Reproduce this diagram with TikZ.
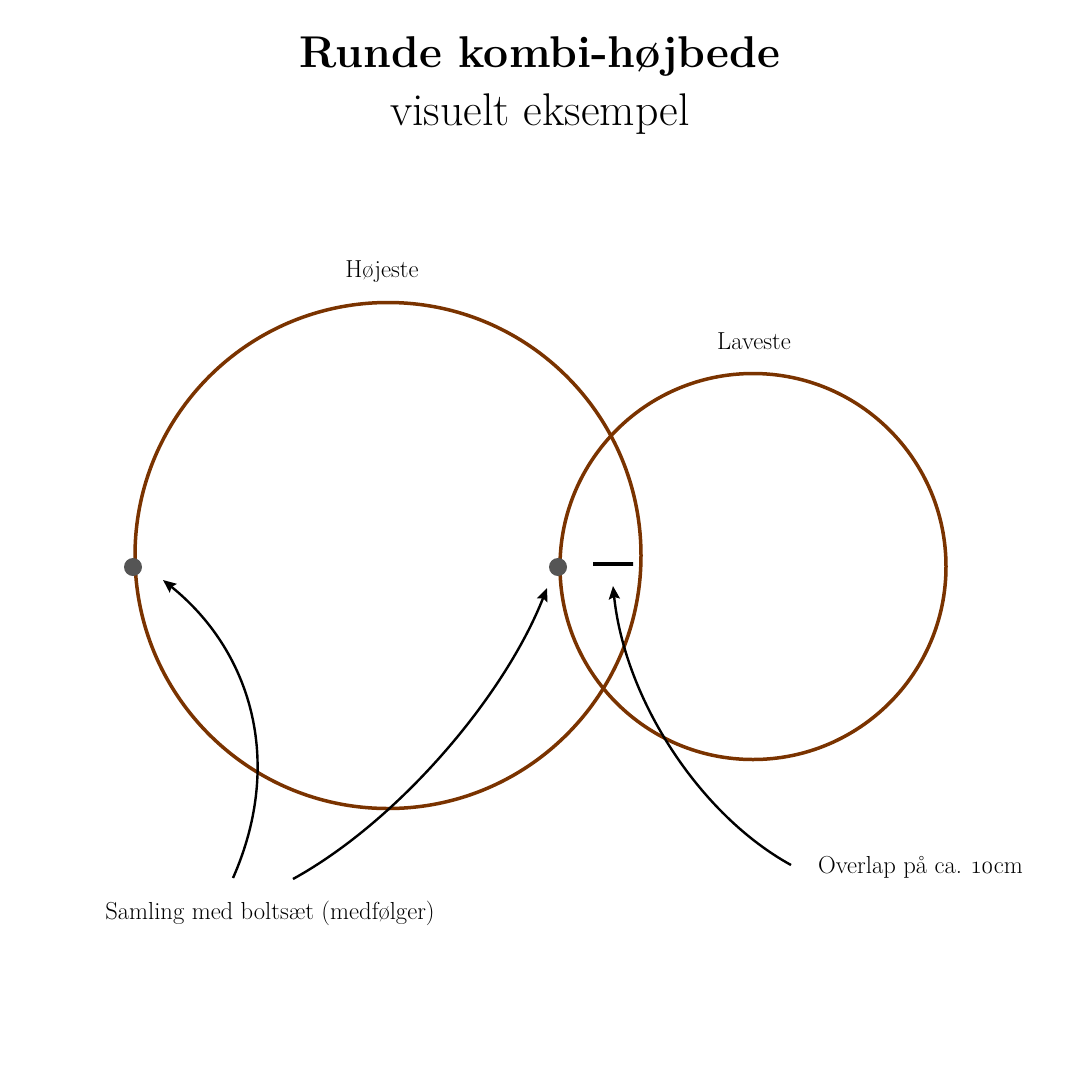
\documentclass[tikz,border=0pt]{standalone}
\usepackage{fontspec}
\setmainfont{Latin Modern Roman}
\usetikzlibrary{arrows.meta}
\definecolor{bedbrown}{HTML}{7A3300}
\definecolor{boltgray}{HTML}{555555}
\begin{document}
\begin{tikzpicture}[x=1pt,y=-1pt,
  bed/.style={draw=bedbrown,line width=3.5pt},
  bolt/.style={circle,fill=boltgray,inner sep=0pt,minimum size=18pt},
  callout/.style={draw=black,line width=2.4pt,-{Stealth[length=13pt,width=11pt,inset=2pt]}},
  lbl/.style={inner sep=0pt,font=\fontsize{24.6}{28}\selectfont}]
\useasboundingbox (0,0) rectangle (1080,1080);
\node[inner sep=0pt,font=\fontsize{44.5}{52}\bfseries\selectfont] (title) at (540,57) {Runde kombi-højbede};
\node[inner sep=0pt,font=\fontsize{45.8}{52}\selectfont] (sub) at (540,114) {visuelt eksempel};
\node[bed,circle,minimum size=506pt,inner sep=0pt] (big) at (388,555.5) {};
\node[bed,circle,minimum size=386pt,inner sep=0pt] (small) at (753,566.5) {};
\node[lbl] (hoj) at (382,272) {Højeste};
\node[lbl] (lav) at (754,341) {Laveste};
\node[bolt] (b1) at (133,567) {};
\node[bolt] (b2) at (558,567) {};
\node[draw=black,line width=3.5pt,minimum width=40pt,minimum height=0pt,inner sep=0pt] (dash) at (613,564) {};
\node[lbl] (saml) at (270,913) {Samling med boltsæt (medfølger)};
\node[lbl,anchor=west] (over) at (818,867) {Overlap på ca. \oldstylenums{10}cm};
\coordinate (s1) at (233,878);
\coordinate (e1) at (163,580);
\coordinate (s2) at (293,879);
\coordinate (e2) at (547,588);
\coordinate (s3) at (791,865);
\coordinate (e3) at (613,586);
\draw[callout] (s1) .. controls (285,760) and (250,650) .. (e1);
\draw[callout] (s2) .. controls (400,820) and (505,695) .. (e2);
\draw[callout] (s3) .. controls (700,815) and (625,700) .. (e3);
\end{tikzpicture}
\end{document}
